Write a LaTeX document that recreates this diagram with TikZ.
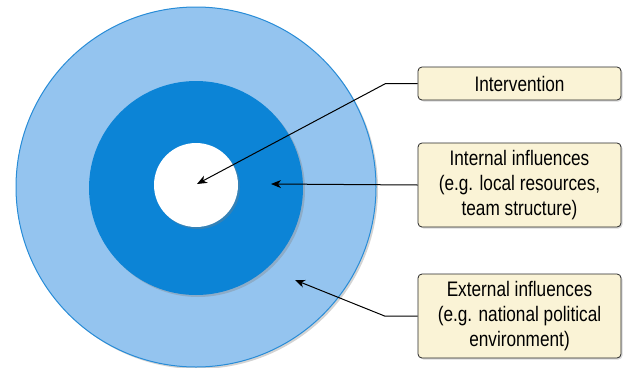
\documentclass[tikz,border=0pt]{standalone}
\usepackage{fontspec}
\setmainfont{Liberation Sans}[FakeStretch=0.82]
\usetikzlibrary{shadows,arrows.meta}
\definecolor{outerblue}{RGB}{148,196,239}
\definecolor{outeredge}{RGB}{40,140,215}
\definecolor{midblue}{RGB}{12,132,214}
\definecolor{boxfill}{RGB}{250,243,214}
\definecolor{boxedge}{RGB}{40,40,40}
\tikzset{
  ring/.style={circle, inner sep=0pt, drop shadow={opacity=0.35, shadow xshift=2pt, shadow yshift=-2pt}},
  label box/.style={draw=boxedge, fill=boxfill, rounded corners=4pt, line width=0.8pt,
    minimum width=203pt, align=center, inner sep=3pt,
    font=\fontsize{21}{25}\selectfont,
    drop shadow={opacity=0.3, shadow xshift=1.5pt, shadow yshift=-1.5pt}},
  pointer/.style={draw=black, line width=1pt, -{Stealth[length=10pt,width=8pt,inset=3pt]}}
}
\begin{document}
\begin{tikzpicture}[x=1pt,y=-1pt]
\useasboundingbox (0,0) rectangle (623,367);
\node[ring, fill=outerblue, draw=outeredge, line width=1pt, minimum size=360pt] (outer) at (196,187) {};
\node[ring, fill=midblue, minimum size=214pt] (mid) at (196,188) {};
\node[ring, fill=white, minimum size=84pt] (inner) at (196,185) {};
\coordinate (tipI) at (197,184);
\coordinate (tipM) at (271,184);
\coordinate (tipO) at (295,280);
\node[label box, minimum height=33pt] (bI) at (519.5,83.5) {Intervention};
\node[label box, minimum height=84pt] (bM) at (519.5,185) {Internal influences\\(e.g. local resources,\\team structure)};
\node[label box, minimum height=84pt] (bO) at (519.5,316) {External influences\\(e.g. national political\\environment)};
\draw[pointer] (bI.west) -- ++(-32,0) -- (tipI);
\draw[pointer] (bM.west) -- (tipM);
\draw[pointer] (bO.west) -- ++(-33,0) -- (tipO);
\end{tikzpicture}
\end{document}
